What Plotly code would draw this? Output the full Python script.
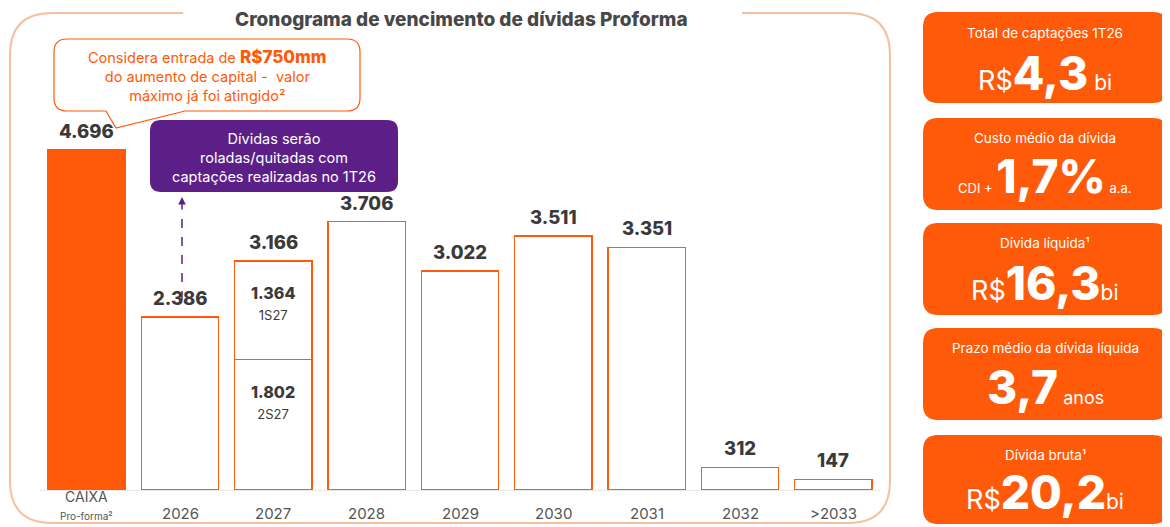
import plotly.graph_objects as go

# ---------------- data ----------------
categories = ["CAIXA", "2026", "2027", "2028", "2029", "2030", "2031", "2032", ">2033"]
maturities = [4696, 2386, 3166, 3706, 3022, 3511, 3351, 312, 147]
split_2027_labels = ["1S27", "2S27"]
split_2027_values = [1364, 1802]

card_titles = ["Total de captações 1T26", "Custo médio da dívida", "Dívida líquida¹",
               "Prazo médio da dívida líquida", "Dívida bruta¹"]
card_prefix = ["R$", "CDI + ", "R$", "", "R$"]
card_values = ["4,3", "1,7%", "16,3", "3,7", "20,2"]
card_suffix = [" bi", " a.a.", "bi", " anos", "bi"]

ORANGE = "#FF5A0A"
PURPLE = "#5B1F87"
DARK = "#3a3a3a"
FONT = "Inter, Roboto, sans-serif"

OFF = 8  # default page margin of the html body
W, H = 1170 - OFF, 527 - OFF
# plot area in window pixels
L, R, T, B = 40, 880, 40, 490


def px(x):
    return (x - L) / (R - L)


def py(y):
    return (B - y) / (B - T)


def P(x, y):
    return f"{px(x):.5f},{py(y):.5f}"


def rounded_rect(x0, y0, x1, y1, r, tail=None):
    s = f"M {P(x0 + r, y0)} L {P(x1 - r, y0)} Q {P(x1, y0)} {P(x1, y0 + r)} "
    s += f"L {P(x1, y1 - r)} Q {P(x1, y1)} {P(x1 - r, y1)} "
    if tail:
        for (tx, ty) in tail:
            s += f"L {P(tx, ty)} "
    s += f"L {P(x0 + r, y1)} Q {P(x0, y1)} {P(x0, y1 - r)} "
    s += f"L {P(x0, y0 + r)} Q {P(x0, y0)} {P(x0 + r, y0)} Z"
    return s


def fmt(v):
    return f"{v:,}".replace(",", ".")


def heavy(t, size=None):
    st = "font-weight:800"
    if size:
        st += f";font-size:{size}px"
    return f"<span style='{st}'>{t}</span>"


def text_ann(x, y, text, size, color, **kw):
    d = dict(x=px(x), y=py(y), xref="paper", yref="paper", showarrow=False, text=text,
             xanchor="center", yanchor="middle", font=dict(size=size, color=color, family=FONT))
    d.update(kw)
    return d


# bottom segment values (2027 -> 2S27), top segment only for 2027
base_vals = [split_2027_values[1] if c == "2027" else v for c, v in zip(categories, maturities)]
top_vals = [split_2027_values[0] if c == "2027" else 0 for c in categories]
fill_colors = [ORANGE if c == "CAIXA" else "white" for c in categories]

fig = go.Figure()
fig.add_trace(go.Bar(x=categories, y=base_vals, marker=dict(color=fill_colors, line=dict(color=ORANGE, width=1.5)),
                     width=0.83, hoverinfo="skip"))
fig.add_trace(go.Bar(x=categories, y=top_vals, marker=dict(color="white", line=dict(color=ORANGE, width=1.5)),
                     width=0.83, hoverinfo="skip"))

ann = []
i27 = categories.index("2027")
# value labels on top of bars
for i, v in enumerate(maturities):
    ann.append(dict(x=i, y=v, xref="x", yref="y", text=heavy(fmt(v)), showarrow=False,
                    xanchor="center", yanchor="bottom", yshift=6, font=dict(size=18.5, color=DARK, family=FONT)))
# inner labels for 2027 split
ann.append(dict(x=i27, y=split_2027_values[1] + split_2027_values[0] / 2, xref="x", yref="y", yshift=7,
                xanchor="center", yanchor="middle",
                text=heavy(fmt(split_2027_values[0])) + f"<br><span style='font-size:13px'>{split_2027_labels[0]}</span>",
                showarrow=False, font=dict(size=16, color=DARK, family=FONT)))
ann.append(dict(x=i27, y=split_2027_values[1] / 2, xref="x", yref="y", yshift=23,
                xanchor="center", yanchor="middle",
                text=heavy(fmt(split_2027_values[1])) + f"<br><span style='font-size:13px'>{split_2027_labels[1]}</span>",
                showarrow=False, font=dict(size=16, color=DARK, family=FONT)))
# category labels
for i, c in enumerate(categories):
    if c == "CAIXA":
        ann.append(dict(x=i, y=0, xref="x", yref="y", yshift=4, yanchor="top", xanchor="center",
                        text="CAIXA<br><span style='font-size:10px'>Pro-forma²</span>",
                        showarrow=False, font=dict(size=14, color="#555", family=FONT)))
    else:
        ann.append(dict(x=i, y=0, xref="x", yref="y", yshift=-12, yanchor="top", xanchor="center", text=c,
                        showarrow=False, font=dict(size=15, color="#555", family=FONT)))

# title
ann.append(text_ann(461, 19, heavy("Cronograma de vencimento de dívidas Proforma"), 19, "#474747"))
# orange callout text
ann.append(text_ann(207, 76, "Considera entrada de " + heavy("R$750mm", 17) + "<br>"
                             "do aumento de capital -  valor<br>máximo já foi atingido²", 14.5, ORANGE))
# purple box text
ann.append(text_ann(274, 157, "Dívidas serão<br>roladas/quitadas com<br>captações realizadas no 1T26",
                    14.5, "white"))
# dashed arrow head
ann.append(dict(x=px(182), y=py(197), xref="paper", yref="paper", ax=0, ay=14, showarrow=True,
                arrowhead=2, arrowsize=1, arrowwidth=1.5, arrowcolor=PURPLE, text=""))

shapes = []
# frame
frame = (f"M {P(183, 13)} L {P(52, 13)} Q {P(10, 13)} {P(10, 55)} L {P(10, 481)} Q {P(10, 523)} {P(52, 523)} "
         f"L {P(848, 523)} Q {P(890, 523)} {P(890, 481)} L {P(890, 55)} Q {P(890, 13)} {P(848, 13)} L {P(742, 13)}")
shapes.append(dict(type="path", path=frame, xref="paper", yref="paper", line=dict(color="#F6C19A", width=2),
                   layer="below"))
# callout box
shapes.append(dict(type="path", xref="paper", yref="paper",
                   path=rounded_rect(54, 39, 360, 111, 13, tail=[(185, 111), (116, 128), (106, 111)]),
                   line=dict(color=ORANGE, width=1.2), fillcolor="white"))
# purple box
shapes.append(dict(type="path", xref="paper", yref="paper", path=rounded_rect(150, 120, 398, 192, 11),
                   line=dict(width=0), fillcolor=PURPLE))
# dashed line
shapes.append(dict(type="line", xref="paper", yref="paper", x0=px(182), x1=px(182), y0=py(300), y1=py(210),
                   line=dict(color=PURPLE, width=1.5, dash="dash")))

# right cards
card_boxes = [(12, 103), (118, 210), (223, 315), (328, 420), (435, 524)]
title_y = [33, 138, 243, 348, 455]
value_y = [73, 176, 283, 387, 492]
for i, (y0, y1) in enumerate(card_boxes):
    shapes.append(dict(type="path", xref="paper", yref="paper", path=rounded_rect(923, y0, 1168, y1, 15),
                       line=dict(width=0), fillcolor=ORANGE))
    ann.append(text_ann(1045, title_y[i], card_titles[i], 13.5, "white"))
    if card_prefix[i] == "R$":
        pre = f"<span style='font-size:27px'>{card_prefix[i]}</span>"
        suf = f"<span style='font-size:21px'>{card_suffix[i]}</span>"
    else:
        pre = f"<span style='font-size:13px'>{card_prefix[i]}</span>"
        suf = f"<span style='font-size:{13 if card_suffix[i] == ' a.a.' else 18}px'>{card_suffix[i]}</span>"
    txt = pre + heavy(card_values[i], 46) + suf
    ann.append(text_ann(1045, value_y[i], txt, 20, "white"))

fig.update_layout(
    width=W, height=H, barmode="stack", showlegend=False,
    margin=dict(l=L - OFF, r=1170 - R, t=T - OFF, b=527 - B, pad=0),
    paper_bgcolor="white", plot_bgcolor="white",
    xaxis=dict(type="category", range=[-0.5, len(categories) - 0.5], showticklabels=False, showgrid=False,
               zeroline=False, showline=True, linecolor="#e8e8e8", linewidth=1, fixedrange=True),
    yaxis=dict(range=[0, 6215], visible=False, showgrid=False, fixedrange=True),
    annotations=ann, shapes=shapes, bargap=0.17,
)
fig.write_html("out.html")
